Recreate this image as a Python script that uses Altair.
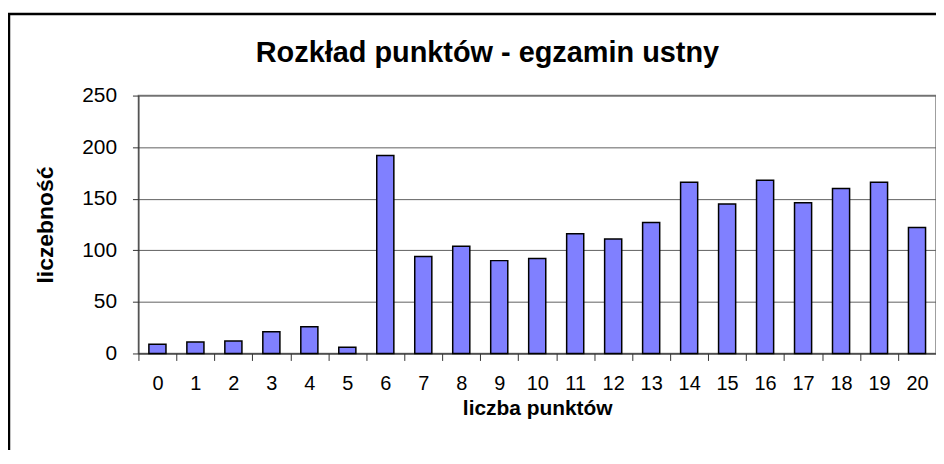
import altair as alt
import pandas as pd

points = [str(i) for i in range(21)]
counts = [9, 11, 12, 21, 26, 6, 192, 94, 104, 90, 92, 116, 111, 127, 166, 145, 168, 146, 160, 166, 122]

df = pd.DataFrame({"punkty": points, "liczebnosc": counts})

FONT = "Liberation Sans"

bars = alt.Chart(df).mark_bar(
    fill="#8080FF", stroke="#000000", strokeWidth=1.5,
    width=alt.RelativeBandSize(0.45)
).encode(
    x=alt.X("punkty:N", sort=points,
            scale=alt.Scale(paddingInner=0, paddingOuter=0),
            axis=alt.Axis(title="liczba punktów", labelAngle=0, tickBand="extent",
                          tickSize=7, labelPadding=13, titleY=44, titleBaseline="top",
                          domainColor="#333333", tickColor="#333333", grid=False,
                          labelFontSize=20, titleFontSize=21, titleFontWeight="bold")),
    y=alt.Y("liczebnosc:Q",
            scale=alt.Scale(domain=[0, 250], nice=False),
            axis=alt.Axis(title="liczebność", values=[0, 50, 100, 150, 200, 250],
                          tickSize=6, labelPadding=16, grid=True, gridColor="#606060",
                          domainColor="#333333", tickColor="#333333",
                          titleX=-93, titleBaseline="middle",
                          labelFontSize=21, titleFontSize=23, titleFontWeight="bold")),
)

frame = alt.Chart(alt.Data(values=[{}])).mark_rect(
    fill=None, stroke="#000000", strokeWidth=2.5
).encode(
    x=alt.value(-130), x2=alt.value(850), y=alt.value(-82), y2=alt.value(400)
)

chart = alt.layer(frame, bars).properties(
    width=801, height=259,
    title=alt.TitleParams("Rozkład punktów - egzamin ustny", fontSize=29, fontWeight="bold",
                          font=FONT, anchor="middle", dx=-50, offset=0, dy=56, color="#000000"),
    autosize=alt.AutoSizeParams(type="none"),
    padding={"left": 131, "top": 87, "right": 0, "bottom": 96},
).configure(font=FONT).configure_axis(
    labelFont=FONT, titleFont=FONT, labelColor="#000000", titleColor="#000000"
).configure_view(stroke="#808080", strokeWidth=1.5)

chart.save("out.html", embed_options={"renderer": "svg", "actions": False})
